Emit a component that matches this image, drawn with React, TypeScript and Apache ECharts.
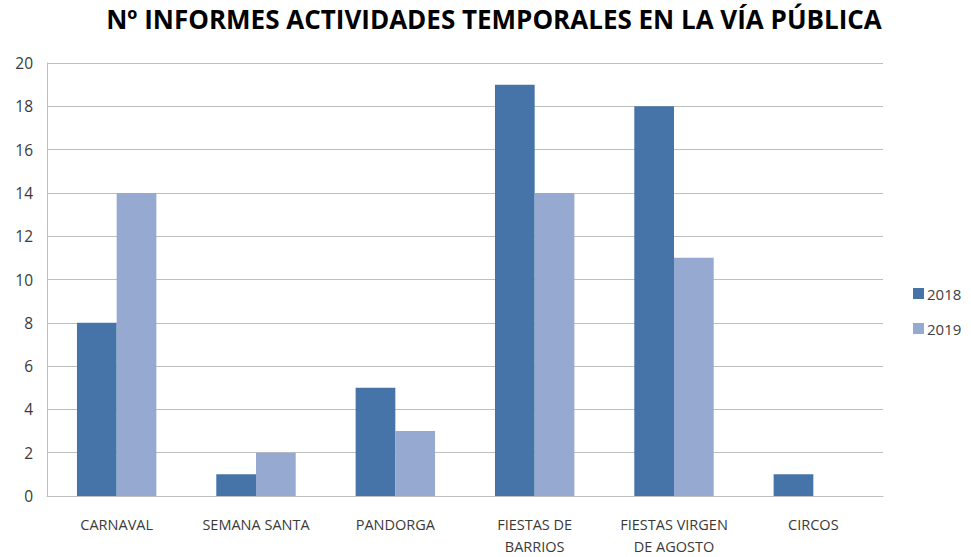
import React, { useEffect, useRef } from "react";
import * as echarts from "echarts";

const categories = [
  "CARNAVAL",
  "SEMANA SANTA",
  "PANDORGA",
  "FIESTAS DE\nBARRIOS",
  "FIESTAS VIRGEN\nDE AGOSTO",
  "CIRCOS",
];
const values2018 = [8, 1, 5, 19, 18, 1];
const values2019 = [14, 2, 3, 14, 11, 0];
const seriesNames = ["2018", "2019"];

const FONT = "'Open Sans', 'Noto Sans', sans-serif";

export default function App() {
  const ref = useRef<HTMLDivElement>(null);
  useEffect(() => {
    if (!ref.current) return;
    const chart = echarts.init(ref.current, undefined, { renderer: "svg" });
    chart.setOption({
      animation: false,
      backgroundColor: "#ffffff",
      title: {
        text: "Nº INFORMES ACTIVIDADES TEMPORALES EN LA VÍA PÚBLICA",
        left: 489,
        top: 1,
        textAlign: "center",
        textStyle: {
          fontFamily: FONT,
          fontSize: 26,
          fontWeight: "bold",
          color: "#000000",
        },
      },
      legend: {
        orient: "vertical",
        left: 908,
        top: 281,
        itemWidth: 11,
        itemHeight: 11,
        itemGap: 20,
        icon: "rect",
        textStyle: { fontFamily: FONT, fontSize: 15, color: "#404040", padding: [0, 0, 0, -2] },
        data: seriesNames,
      },
      grid: { left: 47, right: 88, top: 63, bottom: 59, containLabel: false },
      xAxis: {
        type: "category",
        data: categories,
        axisLine: { lineStyle: { color: "#BFBFBF", width: 1 } },
        axisTick: { show: false },
        axisLabel: {
          fontFamily: FONT,
          fontSize: 14.5,
          color: "#3A3A3A",
          margin: 17,
          lineHeight: 22,
          interval: 0,
        },
      },
      yAxis: {
        type: "value",
        min: 0,
        max: 20,
        interval: 2,
        axisLine: { show: true, lineStyle: { color: "#BFBFBF", width: 1 } },
        axisTick: { show: false },
        splitLine: { lineStyle: { color: "#BFBFBF", width: 1 } },
        axisLabel: { fontFamily: FONT, fontSize: 15.5, color: "#3A3A3A", margin: 14 },
      },
      series: [
        {
          name: seriesNames[0],
          type: "bar",
          data: values2018,
          barGap: "0%",
          barCategoryGap: "43%",
          itemStyle: { color: "#4674A9" },
        },
        {
          name: seriesNames[1],
          type: "bar",
          data: values2019,
          barGap: "0%",
          barCategoryGap: "43%",
          itemStyle: { color: "#95A9D1" },
        },
      ],
    });
    return () => chart.dispose();
  }, []);
  return (
    <div
      ref={ref}
      style={{ position: "fixed", left: 0, top: 0, width: 971, height: 557 }}
    />
  );
}
